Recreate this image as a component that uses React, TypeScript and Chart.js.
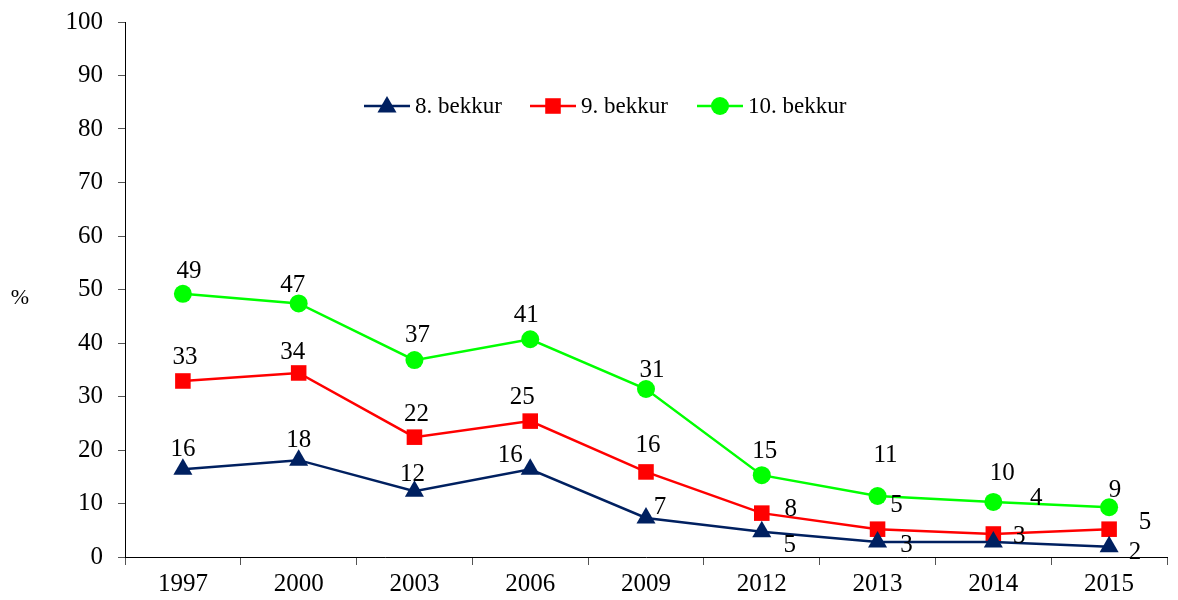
import React, { useEffect, useRef } from "react";
import { Chart, registerables } from "chart.js";

Chart.register(...registerables);

const categories = ["1997", "2000", "2003", "2006", "2009", "2012", "2013", "2014", "2015"];
const grade8 = [16.4, 18.1, 12.3, 16.4, 7.3, 4.7, 2.8, 2.8, 1.9];
const grade9 = [32.9, 34.4, 22.4, 25.4, 15.9, 8.2, 5.2, 4.3, 5.2];
const grade10 = [49.2, 47.4, 36.8, 40.7, 31.4, 15.3, 11.4, 10.3, 9.3];
const yTicks = [0, 10, 20, 30, 40, 50, 60, 70, 80, 90, 100];
const seriesNames = ["8. bekkur", "9. bekkur", "10. bekkur"];

// label placement (dx, dy) relative to each point, per series
const labelOffsets: number[][][] = [
  [[0, -22], [0, -22], [-2, -19], [-20, -16], [14, -13], [28, 12], [29, 1], [26, -8], [26, 4]],
  [[2, -26], [-6, -23], [2, -25], [-8, -26], [2, -28], [29, -6], [19, -26], [43, -38], [36, -9]],
  [[6, -24], [-6, -20], [3, -27], [-4, -26], [6, -21], [3, -26], [8, -43], [9, -30], [6, -19]],
];

const FONT = "'Liberation Serif', 'DejaVu Serif', serif";
const NAVY = "#002060";
const RED = "#FF0000";
const GREEN = "#00FF00";

function drawMarker(ctx: CanvasRenderingContext2D, style: string, x: number, y: number, r: number, color: string) {
  ctx.save();
  ctx.fillStyle = color;
  ctx.beginPath();
  if (style === "triangle") {
    ctx.moveTo(x, y - r);
    ctx.lineTo(x + r * 0.866, y + r * 0.5);
    ctx.lineTo(x - r * 0.866, y + r * 0.5);
    ctx.closePath();
  } else if (style === "rect") {
    const s = r * Math.SQRT1_2;
    ctx.rect(x - s, y - s, 2 * s, 2 * s);
  } else {
    ctx.arc(x, y, r, 0, Math.PI * 2);
  }
  ctx.fill();
  ctx.restore();
}

const extrasPlugin = {
  id: "extras",
  afterDatasetsDraw(chart: any) {
    const ctx: CanvasRenderingContext2D = chart.ctx;
    ctx.save();
    ctx.font = `25px ${FONT}`;
    ctx.fillStyle = "#000";
    ctx.textAlign = "center";
    ctx.textBaseline = "middle";
    chart.data.datasets.forEach((ds: any, di: number) => {
      const meta = chart.getDatasetMeta(di);
      meta.data.forEach((pt: any, i: number) => {
        const off = labelOffsets[di][i];
        ctx.fillText(String(Math.round(ds.data[i])), pt.x + off[0], pt.y + off[1] + 2);
      });
    });
    // y-axis title
    ctx.font = `22px ${FONT}`;
    ctx.fillText("%", 20, 298);
    // legend
    ctx.font = `23px ${FONT}`;
    const items = [
      { x: 364, color: NAVY, style: "triangle", r: 11 },
      { x: 530, color: RED, style: "rect", r: 11 },
      { x: 697, color: GREEN, style: "circle", r: 9 },
    ];
    const ly = 106;
    items.forEach((it, k) => {
      ctx.strokeStyle = it.color;
      ctx.lineWidth = 2.5;
      ctx.beginPath();
      ctx.moveTo(it.x, ly);
      ctx.lineTo(it.x + 46, ly);
      ctx.stroke();
      drawMarker(ctx, it.style, it.x + 23, ly + (it.style === "triangle" ? 1 : 0), it.r, it.color);
      ctx.fillStyle = "#000";
      ctx.textAlign = "left";
      ctx.fillText(seriesNames[k], it.x + 51, ly + 1);
    });
    ctx.restore();
  },
};

export default function App() {
  const ref = useRef<HTMLCanvasElement | null>(null);
  useEffect(() => {
    if (!ref.current) return;
    const chart = new Chart(ref.current, {
      type: "line",
      data: {
        labels: categories,
        datasets: [
          { label: seriesNames[0], data: grade8, borderColor: NAVY, backgroundColor: NAVY, pointStyle: "triangle", pointRadius: 11, borderWidth: 2.5, pointBorderWidth: 0 },
          { label: seriesNames[1], data: grade9, borderColor: RED, backgroundColor: RED, pointStyle: "rect", pointRadius: 11, borderWidth: 2.5, pointBorderWidth: 0 },
          { label: seriesNames[2], data: grade10, borderColor: GREEN, backgroundColor: GREEN, pointStyle: "circle", pointRadius: 9, borderWidth: 2.5, pointBorderWidth: 0 },
        ],
      },
      options: {
        animation: false,
        responsive: false,
        maintainAspectRatio: false,
        layout: { padding: { left: 0, right: 0, top: 0, bottom: 0 } },
        plugins: { legend: { display: false }, tooltip: { enabled: false } },
        scales: {
          x: {
            offset: true,
            grid: { display: true, drawOnChartArea: false, drawTicks: true, tickLength: 8, offset: true, color: "#555", lineWidth: 1 },
            border: { display: true, color: "#000", width: 1 },
            ticks: { color: "#000", font: { family: FONT, size: 25 }, padding: 4, maxRotation: 0, autoSkip: false },
            afterFit: (s: any) => { s.height = 43; },
          },
          y: {
            min: 0,
            max: 100,
            afterBuildTicks: (s: any) => { s.ticks = yTicks.map((v) => ({ value: v })); },
            grid: { display: true, drawOnChartArea: false, drawTicks: true, tickLength: 7, color: "#555", lineWidth: 1 },
            border: { display: true, color: "#000", width: 1 },
            ticks: { color: "#000", font: { family: FONT, size: 25, lineHeight: 0.56 }, padding: 15 },
            afterFit: (s: any) => { s.width = 125; },
          },
        },
      },
      plugins: [extrasPlugin],
    });
    return () => chart.destroy();
  }, []);
  return (
    <div style={{ position: "absolute", left: 0, top: 0, width: 1178, height: 600, background: "#fff" }}>
      <canvas ref={ref} width={1178} height={600} style={{ display: "block" }} />
    </div>
  );
}
